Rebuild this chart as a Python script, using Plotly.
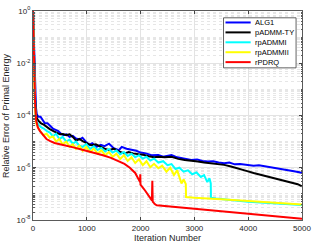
import plotly.graph_objects as go

# ---------------- data (log10 of relative error) -------------
alg1_it = [0, 10, 20, 30, 40, 55, 70, 100, 140, 180, 220, 270, 320, 370, 420, 470, 520, 570, 620, 680,
           740, 800, 860, 920, 980, 1046, 1100, 1180, 1260, 1330, 1413, 1500, 1596, 1650, 1740, 1840,
           1920, 2000, 2100, 2200, 2330, 2420, 2500, 2575, 2680, 2800, 2941, 3050, 3150, 3248, 3350,
           3450, 3554, 3650, 3750, 3850, 3982, 4100, 4200, 4350, 4450, 4550, 4650, 4750, 4850, 4950, 5000]
alg1_lg = [0, -0.8, -1.6, -2.3, -3.0, -3.7, -3.95, -4.05, -4.05, -4.2, -4.3, -4.3, -4.4, -4.5, -4.55, -4.6,
           -4.7, -4.75, -4.72, -4.82, -4.78, -4.88, -4.92, -4.85, -5.0, -5.12, -5.06, -5.2, -5.12, -5.17,
           -5.08, -5.25, -5.33, -5.2, -5.27, -5.32, -5.35, -5.42, -5.45, -5.52, -5.51, -5.58, -5.55, -5.51,
           -5.6, -5.64, -5.7, -5.68, -5.74, -5.76, -5.75, -5.8, -5.83, -5.8, -5.87, -5.86, -5.89, -5.92,
           -5.9, -5.95, -5.98, -6.02, -6.06, -6.07, -6.13, -6.17, -6.2]

tya_it = [0, 10, 20, 30, 40, 55, 70, 100, 150, 200, 260, 312, 380, 450, 500, 557, 620, 680, 740, 800, 860,
          923, 1000, 1080, 1168, 1250, 1330, 1413, 1500, 1596, 1700, 1780, 1860, 1963, 2050, 2150, 2250,
          2330, 2450, 2575, 2700, 2820, 2950, 3064, 3180, 3308, 3420, 3554, 3680, 3798, 3900, 3982, 4100,
          4200, 4349, 4450, 4593, 4700, 4838, 4920, 5000]
tya_lg = [0, -1.0, -1.9, -2.7, -3.4, -3.9, -4.1, -4.2, -4.3, -4.35, -4.45, -4.52, -4.6, -4.68, -4.72, -4.71,
          -4.75, -4.72, -4.82, -4.96, -4.9, -4.98, -5.05, -5.14, -5.1, -5.2, -5.27, -5.33, -5.27, -5.38,
          -5.45, -5.4, -5.45, -5.48, -5.5, -5.56, -5.6, -5.58, -5.6, -5.58, -5.66, -5.7, -5.72, -5.76, -5.8,
          -5.83, -5.86, -5.89, -5.95, -6.01, -6.07, -6.13, -6.2, -6.25, -6.32, -6.37, -6.44, -6.5, -6.57,
          -6.63, -6.71]

rp1_it = [0, 10, 20, 30, 45, 60, 100, 150, 200, 260, 312, 370, 430, 490, 550, 620, 680, 740, 800, 860, 923,
          990, 1060, 1130, 1200, 1270, 1340, 1413, 1480, 1550, 1620, 1690, 1760, 1830, 1900, 1970, 2040,
          2110, 2180, 2250, 2330, 2420, 2500, 2575, 2650, 2720, 2800, 2880, 2960, 3040, 3120, 3180, 3240,
          3280, 3304, 3308, 3400, 4000, 4500, 5000]
rp1_lg = [0, -1.2, -2.3, -3.2, -3.9, -4.2, -4.35, -4.45, -4.5, -4.6, -4.65, -4.8, -4.7, -4.9, -4.82, -5.0,
          -4.92, -5.08, -5.0, -5.15, -5.2, -5.1, -5.28, -5.18, -5.32, -5.24, -5.38, -5.28, -5.42, -5.34,
          -5.48, -5.4, -5.55, -5.46, -5.6, -5.52, -5.65, -5.58, -5.72, -5.65, -5.8, -5.75, -5.9, -5.86,
          -6.05, -6.0, -6.15, -6.1, -6.25, -6.18, -6.35, -6.28, -6.55, -6.4, -6.6, -7.15, -7.18, -7.3,
          -7.37, -7.43]

rp2_it = [0, 10, 20, 30, 45, 60, 100, 150, 190, 250, 312, 370, 430, 490, 550, 620, 680, 740, 800, 860, 923,
          990, 1060, 1130, 1200, 1270, 1340, 1413, 1480, 1550, 1620, 1690, 1760, 1830, 1900, 1970, 2040,
          2110, 2180, 2250, 2330, 2400, 2480, 2550, 2620, 2680, 2760, 2800, 2840, 2845, 3000, 3500, 4000,
          4500, 5000]
rp2_lg = [0, -1.4, -2.5, -3.3, -4.0, -4.3, -4.5, -4.65, -4.75, -4.7, -4.85, -4.8, -5.0, -4.9, -5.1, -5.0,
          -5.2, -5.1, -5.28, -5.15, -5.35, -5.2, -5.4, -5.27, -5.46, -5.33, -5.52, -5.4, -5.58, -5.46,
          -5.66, -5.52, -5.74, -5.6, -5.82, -5.68, -5.9, -5.75, -5.98, -5.85, -6.02, -5.92, -6.15, -6.0,
          -6.28, -6.1, -6.6, -6.45, -6.62, -7.12, -7.15, -7.21, -7.28, -7.35, -7.41]

pdrq_it = [0, 10, 20, 30, 40, 60, 90, 130, 190, 250, 312, 400, 500, 618, 750, 900, 1000, 1150, 1300, 1450,
           1600, 1700, 1800, 1900, 1990, 1994, 1998, 2086, 2150, 2210, 2218, 2225, 2269, 2300, 3000, 4000,
           5000]
pdrq_lg = [0, -1.0, -2.0, -2.9, -3.6, -4.2, -4.45, -4.6, -4.77, -4.9, -4.97, -5.05, -5.1, -5.15, -5.22,
           -5.3, -5.35, -5.42, -5.52, -5.62, -5.75, -5.85, -6.0, -6.2, -6.55, -6.25, -6.65, -6.88, -7.05,
           -7.25, -6.5, -7.3, -7.4, -7.44, -7.57, -7.76, -7.95]

series_names = ["ALG1", "pADMM-TY", "rpADMMI", "rpADMMII", "rPDRQ"]
series_colors = ["#0000ff", "#000000", "#00ffff", "#ffff00", "#ff0000"]
series_data = [(alg1_it, alg1_lg), (tya_it, tya_lg), (rp1_it, rp1_lg), (rp2_it, rp2_lg), (pdrq_it, pdrq_lg)]

ytick_vals = [1e-8, 1e-6, 1e-4, 1e-2, 1]
ytick_text = ["10<sup>-8</sup>", "10<sup>-6</sup>", "10<sup>-4</sup>", "10<sup>-2</sup>", "10<sup>0</sup>"]
xtick_vals = [0, 1000, 2000, 3000, 4000, 5000]

# ---------------- figure -------------
W, H = 316, 245
L, R, T, B = 33, 10.5, 5, 25
pw, ph = W - L - R, H - T - B

fig = go.Figure()
for name, col, (it, lg) in zip(series_names, series_colors, series_data):
    fig.add_trace(go.Scatter(x=it, y=[10 ** v for v in lg], mode="lines", name=name,
                             line=dict(color=col, width=2), showlegend=False))

minor_vals = []
for k in range(-8, 0):
    for m in range(1, 10):
        v = m * 10 ** k
        if not (m == 1 and k % 2 == 0):
            minor_vals.append(v)

font = "Liberation Sans, Arial, Helvetica, sans-serif"
fig.update_layout(
    width=W, height=H,
    margin=dict(l=L, r=R, t=T, b=B),
    paper_bgcolor="white", plot_bgcolor="white",
    font=dict(family=font, size=8, color="#262626"),
    xaxis=dict(range=[0, 5000], tickvals=xtick_vals, ticks="inside", ticklen=3,
               showline=True, linecolor="#5a5a5a", linewidth=1, mirror="ticks",
               showgrid=True, gridcolor="#e3e3e3", gridwidth=1, zeroline=False,
               tickfont=dict(size=8, color="#262626")),
    yaxis=dict(type="log", range=[-8, 0], tickvals=ytick_vals, ticktext=ytick_text,
               ticks="inside", ticklen=3, showline=True, linecolor="#5a5a5a", linewidth=1,
               mirror="ticks", showgrid=True, gridcolor="#e3e3e3", gridwidth=1, zeroline=False,
               tickfont=dict(size=8, color="#262626"),
               minor=dict(tickvals=minor_vals, ticks="inside", ticklen=1.5, tickcolor="#5a5a5a",
                          showgrid=True, gridcolor="#e6e6e6", griddash="dot", gridwidth=1)),
    showlegend=False,
)

# axis titles
fig.add_annotation(text="Iteration Number", xref="paper", yref="paper", x=0.5, y=0,
                   yshift=-11, xanchor="center", yanchor="top", showarrow=False,
                   font=dict(size=9, color="#262626"))
fig.add_annotation(text="Relative Error of Primal Energy", xref="paper", yref="paper", x=0, y=0.5,
                   xshift=-27.5, textangle=-90, xanchor="center", yanchor="middle", showarrow=False,
                   font=dict(size=9, color="#262626"))

# legend (drawn manually to match the compact boxed legend)
def px2p(px, py):
    return (px - L) / pw, (H - B - py) / ph

x0, y0 = px2p(226, 12)
x1, y1 = px2p(299.5, 63.5)
fig.add_shape(type="rect", xref="paper", yref="paper", x0=x0, y0=y1, x1=x1, y1=y0,
              line=dict(color="#3a3a3a", width=0.8), fillcolor="white", layer="above")
row_y = [16.8, 27.0, 37.2, 47.4, 57.6]
for name, col, ry in zip(series_names, series_colors, row_y):
    lx0, ly = px2p(228, ry)
    lx1, _ = px2p(253.5, ry)
    fig.add_shape(type="line", xref="paper", yref="paper", x0=lx0, y0=ly, x1=lx1, y1=ly,
                  line=dict(color=col, width=2), layer="above")
    tx, _ = px2p(256, ry)
    fig.add_annotation(text=name, xref="paper", yref="paper", x=tx, y=ly, xanchor="left",
                       yanchor="middle", showarrow=False, font=dict(size=7.5, color="#000000"))

fig.write_html("out.html", config={"displayModeBar": False},
               post_script="document.body.style.margin='0px';document.body.style.overflow='hidden';")
